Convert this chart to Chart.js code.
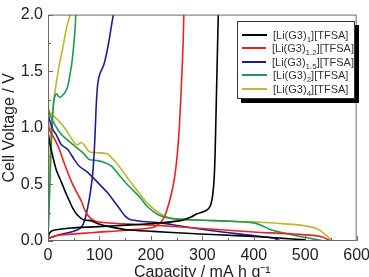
<!DOCTYPE html>
<html>
<head>
<meta charset="utf-8">
<script src="https://cdn.jsdelivr.net/npm/chart.js@4.4.1/dist/chart.umd.min.js"></script>
<style>
  html, body { margin: 0; padding: 0; overflow: hidden; background: #fff; width: 369px; height: 277px; }
  #wrap { position: relative; width: 375px; height: 285px; }
  #legend {
    position: absolute; left: 237px; top: 21px; width: 118px; height: 78px;
    box-sizing: border-box; border: 1px solid #333; background: #fff;
    box-shadow: 4px 4px 0 #000; padding-top: 6px;
    font-family: "Liberation Sans", Arial, sans-serif; font-size: 11px; color: #333;
  }
  .row { display: flex; align-items: center; height: 13.5px; white-space: nowrap; }
  .swatch { width: 25px; height: 1.6px; margin-left: 4px; margin-right: 6px; }
  sub { font-size: 8px; vertical-align: -3px; line-height: 0; }
</style>
</head>
<body>
<div id="wrap">
  <canvas id="chart" width="375" height="285"></canvas>
  <div id="legend"></div>
</div>
<script>
// legend subscripts ([Li(G3)n][TFSA]) and colours
const seriesSub = ['1', '1.2', '1.5', '2', '4'];
const seriesColors = ['#000000', '#e8231f', '#221d8e', '#1f9a52', '#c4b52a'];

// [capacity mA h g-1, voltage V]
// discharge = voltage falling, charge = voltage rising to 2 V
const dis1 = [[0,0.97],[3,0.88],[7,0.79],[16,0.63],[26,0.52],[35,0.42],[41,0.36],[48,0.29],[57,0.23],[70,0.185],[83,0.18],[99,0.15],[121,0.125],[153,0.1],[204,0.085],[260,0.07],[330,0.055],[400,0.04],[450,0.025],[500,0.01]];
const chg1 = [[0,0.02],[3,0.07],[8,0.09],[16,0.1],[45,0.115],[89,0.125],[153,0.14],[204,0.155],[258,0.18],[277,0.21],[290,0.24],[303,0.26],[312,0.285],[317,0.33],[320,0.4],[323,0.55],[325,0.8],[327,1.2],[329,1.6],[331,2.0]];

const dis12 = [[0,1.08],[3,0.98],[13,0.9],[22,0.81],[29,0.72],[38,0.61],[48,0.5],[57,0.42],[64,0.36],[73,0.26],[83,0.2],[96,0.17],[134,0.155],[204,0.14],[300,0.11],[400,0.08],[480,0.06],[530,0.04],[548,0.005]];
const chg12 = [[0,0.02],[19,0.05],[89,0.075],[153,0.095],[204,0.12],[218,0.16],[226,0.21],[233,0.3],[240,0.42],[246,0.56],[251,0.75],[255,0.98],[258,1.25],[261,1.55],[263,1.8],[264,2.0]];

const dis15 = [[0,1.13],[1,1.1],[10,0.98],[16,0.94],[26,0.85],[38,0.81],[51,0.72],[61,0.66],[76,0.61],[96,0.52],[115,0.43],[127,0.36],[140,0.28],[150,0.22],[160,0.19],[180,0.175],[220,0.16],[260,0.13],[320,0.09],[395,0.05],[440,0.025],[448,0.005]];
const chg15 = [[0,0.02],[10,0.04],[25,0.06],[45,0.08],[58,0.1],[66,0.13],[71,0.18],[75,0.25],[79,0.34],[83,0.45],[87,0.6],[90,0.8],[92,1.0],[94,1.22],[97,1.4],[101,1.48],[108,1.55],[114,1.66],[119,1.78],[124,1.92],[127,2.0]];

const dis2 = [[0,1.17],[3,1.12],[13,1.03],[26,0.94],[41,0.88],[57,0.82],[70,0.77],[80,0.72],[96,0.71],[112,0.69],[124,0.66],[137,0.59],[156,0.49],[178,0.39],[194,0.3],[215,0.23],[239,0.2],[290,0.185],[354,0.175],[400,0.16],[414,0.14],[433,0.1],[459,0.07],[490,0.04],[522,0.012],[535,0.002]];
const chg2 = [[0,0.02],[3,0.4],[6,0.8],[9,1.1],[11,1.22],[14,1.29],[17,1.3],[20,1.28],[24,1.27],[29,1.29],[34,1.32],[38,1.36],[42,1.45],[46,1.56],[49,1.68],[51,1.78],[53,1.9],[54,2.0]];

const dis4 = [[0,2.0],[0.4,1.6],[1,1.2],[3,1.14],[19,1.07],[32,1.0],[45,0.91],[51,0.87],[57,0.85],[64,0.87],[70,0.85],[80,0.79],[96,0.78],[115,0.77],[127,0.72],[140,0.65],[159,0.53],[178,0.42],[194,0.33],[215,0.25],[239,0.2],[322,0.18],[395,0.17],[450,0.155],[490,0.14],[522,0.11],[541,0.05],[554,0.0]];
const chg4 = [[0,0.02],[2,0.4],[4,0.8],[7,1.05],[11,1.24],[16,1.39],[22,1.56],[29,1.71],[35,1.86],[40,1.95],[43,2.0]];

const curves = [[dis1, chg1], [dis12, chg12], [dis15, chg15], [dis2, chg2], [dis4, chg4]];

const datasets = [];
curves.forEach((pair, i) => {
    pair.forEach(pts => {
        datasets.push({
            data: pts.map(p => ({ x: p[0], y: p[1] })),
            borderColor: seriesColors[i],
            borderWidth: 1.6,
            showLine: true,
            pointRadius: 0,
            tension: 0.25
        });
    });
});

// frame round the plot plus inward tick marks (major + minor)
const frameTicks = {
    id: 'frameTicks',
    afterDatasetsDraw(chart) {
        const { ctx, chartArea: a, scales: { x, y } } = chart;
        ctx.save();
        ctx.strokeStyle = '#6a6a6a';
        ctx.lineWidth = 1;
        ctx.strokeRect(a.left + 0.5, a.top + 0.5, a.right - a.left - 1, a.bottom - a.top - 1);
        ctx.beginPath();
        for (let v = 0; v <= 600; v += 50) {
            const px = Math.round(x.getPixelForValue(v)) + 0.5;
            const len = v % 100 === 0 ? 5 : 3;
            ctx.moveTo(px, a.bottom);
            ctx.lineTo(px, a.bottom - len);
        }
        for (let k = 0; k <= 8; k++) {
            const py = Math.round(y.getPixelForValue(k * 0.25)) + 0.5;
            const len = k % 2 === 0 ? 5 : 3;
            ctx.moveTo(a.left, py);
            ctx.lineTo(a.left + len, py);
        }
        ctx.stroke();
        ctx.restore();
    }
};

const font = { family: '"Liberation Sans", Arial, sans-serif', size: 16 };

new Chart(document.getElementById('chart').getContext('2d'), {
    type: 'scatter',
    data: { datasets },
    options: {
        responsive: false,
        animation: false,
        layout: { padding: { top: 12, right: 13, left: 0, bottom: 0 } },
        plugins: { legend: { display: false }, tooltip: { enabled: false } },
        scales: {
            x: {
                type: 'linear', min: 0, max: 600,
                afterFit: s => { s.height = 44; },
                grid: { display: false, drawTicks: false },
                border: { display: false },
                ticks: { stepSize: 100, padding: 5, color: '#222', font, maxRotation: 0 },
                title: { display: true, text: 'Capacity / mA h g⁻¹', color: '#222', font, padding: { top: 0, bottom: 3 } }
            },
            y: {
                min: 0, max: 2,
                afterFit: s => { s.width = 48; },
                grid: { display: false, drawTicks: false },
                border: { display: false },
                ticks: { stepSize: 0.5, padding: 5, color: '#222', font, callback: v => v.toFixed(1) },
                title: { display: true, text: 'Cell Voltage / V', color: '#222', font, padding: 0 }
            }
        }
    },
    plugins: [frameTicks]
});

// html legend so the subscripts stay real text
const legend = document.getElementById('legend');
seriesSub.forEach((sub, i) => {
    const row = document.createElement('div');
    row.className = 'row';
    row.innerHTML = '<span class="swatch" style="background:' + seriesColors[i] + '"></span>' +
        '<span>[Li(G3)<sub>' + sub + '</sub>][TFSA]</span>';
    legend.appendChild(row);
});
</script>
</body>
</html>
